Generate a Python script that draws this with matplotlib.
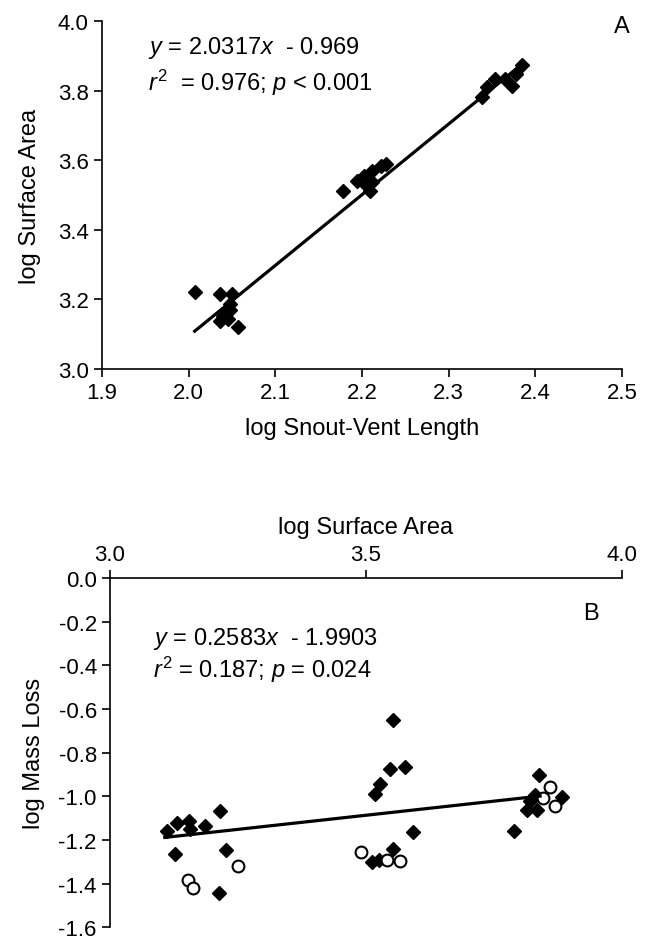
import numpy as np
import matplotlib.pyplot as plt

plt.rcParams['font.family'] = ['Liberation Sans', 'DejaVu Sans']
plt.rcParams['font.size'] = 17
plt.rcParams['mathtext.fontset'] = 'custom'
plt.rcParams['mathtext.rm'] = 'Liberation Sans'
plt.rcParams['mathtext.it'] = 'Liberation Sans:italic'
plt.rcParams['axes.linewidth'] = 1.2

# panel A: log snout-vent length vs log surface area
svl = [2.007, 2.036, 2.050, 2.048, 2.048, 2.040, 2.036, 2.045, 2.057,
       2.178, 2.194, 2.202, 2.211, 2.228, 2.206, 2.209, 2.212, 2.222,
       2.338, 2.344, 2.353, 2.365, 2.373, 2.378, 2.384]
area = [3.222, 3.216, 3.216, 3.187, 3.168, 3.153, 3.139, 3.144, 3.120,
        3.512, 3.541, 3.555, 3.570, 3.589, 3.527, 3.512, 3.537, 3.584,
        3.781, 3.809, 3.833, 3.833, 3.814, 3.848, 3.872]
fitA_x = [2.007, 2.38]
slopeA, interA = 2.0317, -0.969
xticksA = [1.9, 2.0, 2.1, 2.2, 2.3, 2.4, 2.5]
yticksA = [3.0, 3.2, 3.4, 3.6, 3.8, 4.0]

# panel B: log surface area vs log mass loss
areaB_fill = [3.111, 3.130, 3.154, 3.156, 3.186, 3.215, 3.127, 3.227, 3.212,
              3.553, 3.547, 3.576, 3.527, 3.518, 3.592, 3.553, 3.512, 3.525,
              3.837, 3.882, 3.830, 3.820, 3.814, 3.833, 3.788]
loss_fill = [-1.158, -1.121, -1.113, -1.151, -1.136, -1.068, -1.263, -1.245, -1.443,
             -0.652, -0.873, -0.866, -0.941, -0.989, -1.165, -1.240, -1.300, -1.290,
             -0.900, -1.001, -0.993, -1.023, -1.061, -1.061, -1.158]
areaB_open = [3.249, 3.153, 3.163, 3.491, 3.540, 3.566, 3.859, 3.846, 3.869]
loss_open = [-1.318, -1.383, -1.420, -1.255, -1.290, -1.295, -0.956, -1.008, -1.046]
fitB_x = [3.107, 3.84]
slopeB, interB = 0.2583, -1.9903
xticksB = [3.0, 3.5, 4.0]
yticksB = [-1.6, -1.4, -1.2, -1.0, -0.8, -0.6, -0.4, -0.2, 0.0]

fig = plt.figure(figsize=(6.6, 9.45), dpi=100)

axA = fig.add_axes([0.1545, 0.6085, 0.788, 0.3683])
axA.plot(svl, area, 'kD', ms=6.8, mec='k')
fx = np.array(fitA_x)
axA.plot(fx, slopeA * fx + interA, 'k-', lw=2.3)
axA.set_xlim(1.9, 2.5)
axA.set_ylim(3.0, 4.0)
axA.set_xticks(xticksA)
axA.set_yticks(yticksA)
axA.set_xticklabels(['%.1f' % v for v in xticksA])
axA.set_yticklabels(['%.1f' % v for v in yticksA])
axA.spines['top'].set_visible(False)
axA.spines['right'].set_visible(False)
axA.tick_params(direction='out', length=6, width=1.2, labelsize=16)
axA.set_xlabel('log Snout-Vent Length', labelpad=10)
axA.set_ylabel('log Surface Area', labelpad=12)
axA.text(1.953, 3.925, r'$y$ = 2.0317$x$  - 0.969', va='center')
axA.text(1.953, 3.826, r'$r^2$  = 0.976; $p$ < 0.001', va='center')
axA.text(2.5, 3.985, 'A', ha='center', va='center')

axB = fig.add_axes([0.1667, 0.0175, 0.7758, 0.3698])
axB.plot(areaB_fill, loss_fill, 'kD', ms=6.8, mec='k')
axB.plot(areaB_open, loss_open, 'o', ms=8.5, mfc='white', mec='k', mew=1.5)
fx = np.array(fitB_x)
axB.plot(fx, slopeB * fx + interB, 'k-', lw=2.3)
axB.set_xlim(3.0, 4.0)
axB.set_ylim(-1.6, 0.0)
axB.set_xticks(xticksB)
axB.set_yticks(yticksB)
axB.set_xticklabels(['%.1f' % v for v in xticksB])
axB.set_yticklabels(['%.1f' % v for v in yticksB])
axB.xaxis.tick_top()
axB.xaxis.set_label_position('top')
axB.spines['bottom'].set_visible(False)
axB.spines['right'].set_visible(False)
axB.tick_params(direction='out', length=6, width=1.2, labelsize=16)
axB.set_xlabel('log Surface Area', labelpad=8)
axB.set_ylabel('log Mass Loss', labelpad=10)
axB.text(3.084, -0.274, r'$y$ = 0.2583$x$  - 1.9903', va='center')
axB.text(3.084, -0.418, r'$r^2$ = 0.187; $p$ = 0.024', va='center')
axB.text(3.94, -0.16, 'B', ha='center', va='center')

fig.savefig('out.png')
